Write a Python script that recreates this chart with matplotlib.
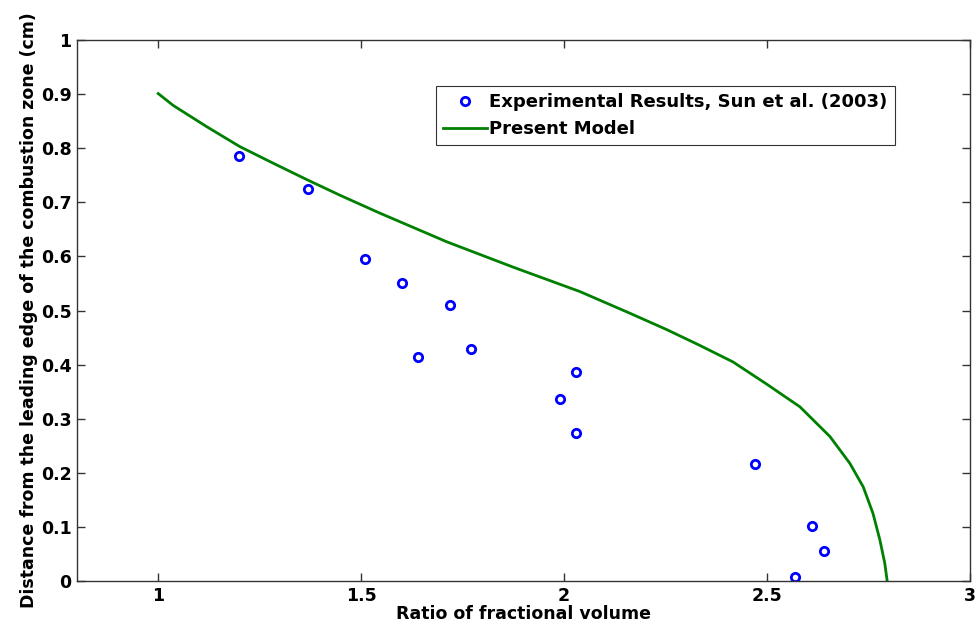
import matplotlib
matplotlib.use("Agg")
import matplotlib.pyplot as plt

plt.rcParams['font.family'] = ['DejaVu Sans']

# Experimental data (Sun et al. 2003)
exp_x = [1.20, 1.37, 1.51, 1.60, 1.72, 1.64, 1.77, 1.99, 2.03, 2.03, 2.47, 2.61, 2.64, 2.57]
exp_y = [0.785, 0.725, 0.595, 0.550, 0.511, 0.414, 0.429, 0.336, 0.387, 0.273, 0.217, 0.101, 0.056, 0.008]

# Present model curve
model_x = [1.0, 1.037, 1.119, 1.201, 1.284, 1.366, 1.448, 1.546, 1.711, 1.875, 2.039, 2.162,
           2.252, 2.333, 2.416, 2.499, 2.581, 2.655, 2.704, 2.737, 2.761, 2.778, 2.790, 2.796]
model_y = [0.901, 0.879, 0.840, 0.803, 0.772, 0.742, 0.713, 0.680, 0.627, 0.580, 0.535, 0.495,
           0.465, 0.436, 0.405, 0.364, 0.322, 0.267, 0.2175, 0.174, 0.125, 0.076, 0.033, 0.0]

xticks = [1, 1.5, 2, 2.5, 3]
xticklabels = ['1', '1.5', '2', '2.5', '3']
yticks = [0, 0.1, 0.2, 0.3, 0.4, 0.5, 0.6, 0.7, 0.8, 0.9, 1]
yticklabels = ['0', '0.1', '0.2', '0.3', '0.4', '0.5', '0.6', '0.7', '0.8', '0.9', '1']

fig = plt.figure(figsize=(9.79, 6.31), dpi=100)
ax = fig.add_axes([0.0787, 0.0792, 0.9121, 0.8574])

ax.plot(exp_x, exp_y, linestyle='none', marker='o', markersize=6, markerfacecolor='none',
        markeredgecolor='#0000ff', markeredgewidth=2, label='Experimental Results, Sun et al. (2003)')
ax.plot(model_x, model_y, color='#008000', linewidth=2, label='Present Model')

ax.set_xlim(0.8, 3)
ax.set_ylim(0, 1)
ax.set_xticks(xticks)
ax.set_xticklabels(xticklabels)
ax.set_yticks(yticks)
ax.set_yticklabels(yticklabels)
ax.tick_params(direction='in', top=True, right=True, length=6, width=1, color='#333333',
               labelsize=12.5, pad=4)
for lbl in ax.get_xticklabels() + ax.get_yticklabels():
    lbl.set_fontweight('bold')
for sp in ax.spines.values():
    sp.set_color('#333333')
    sp.set_linewidth(1)

ax.set_xlabel('Ratio of fractional volume', fontsize=12.5, fontweight='bold', labelpad=0)
ax.set_ylabel('Distance from the leading edge of the combustion zone (cm)', fontsize=12.5,
              fontweight='bold', labelpad=2)

leg = ax.legend(loc='upper left', bbox_to_anchor=(0.402, 0.915), fontsize=13, frameon=True,
                fancybox=False, edgecolor='black', borderpad=0.4, handlelength=2.4,
                handletextpad=0.15, labelspacing=0.5, borderaxespad=0)
for t in leg.get_texts():
    t.set_fontweight('bold')
leg.get_frame().set_linewidth(0.8)

fig.savefig('out.png', dpi=100)
